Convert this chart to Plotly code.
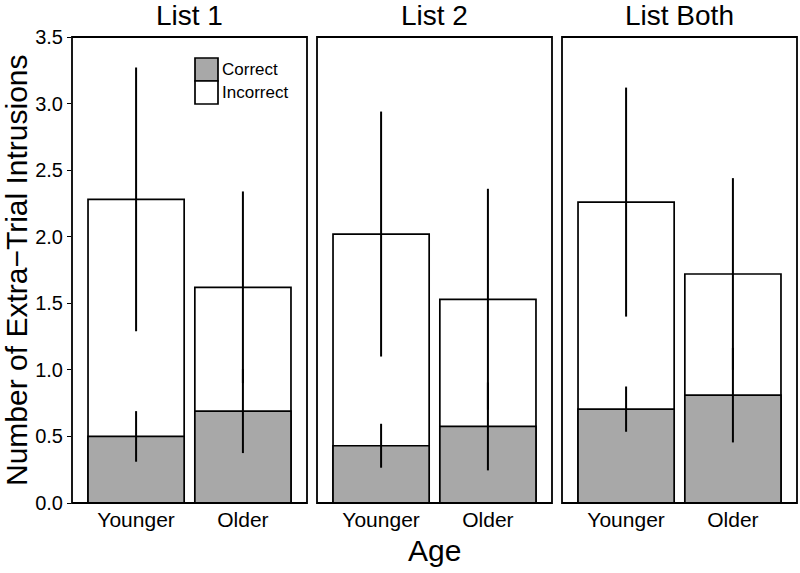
import plotly.graph_objects as go

panels = ["List 1", "List 2", "List Both"]
ages = ["Younger", "Older"]

total_mean = [[2.28, 1.62], [2.02, 1.53], [2.26, 1.72]]
total_err = [[0.99, 0.72], [0.92, 0.83], [0.86, 0.72]]
correct_mean = [[0.50, 0.69], [0.43, 0.575], [0.705, 0.81]]
correct_err = [[0.19, 0.315], [0.165, 0.33], [0.17, 0.355]]

y_ticks = [0.0, 0.5, 1.0, 1.5, 2.0, 2.5, 3.0, 3.5]
y_ticklabels = ["0.0", "0.5", "1.0", "1.5", "2.0", "2.5", "3.0", "3.5"]

GRAY = "#A8A8A8"
FONT = "Liberation Sans, Arial, Helvetica, sans-serif"

W, H = 800, 573
ML, MT = 72, 37
PW, PH = 725, 466
MR = W - ML - PW
MB = H - MT - PH

panel_w = 235
gap = 10
domains = []
for i in range(3):
    x0 = i * (panel_w + gap)
    domains.append([x0 / PW, min(1.0, (x0 + panel_w) / PW)])

fig = go.Figure()
for i, p in enumerate(panels):
    xa = "x" if i == 0 else f"x{i+1}"
    fig.add_trace(go.Bar(
        x=ages, y=total_mean[i], xaxis=xa, yaxis="y",
        width=0.9, marker=dict(color="white", line=dict(color="black", width=1.7)),
        error_y=dict(type="data", array=total_err[i], visible=True, width=0,
                     thickness=2, color="black"),
        showlegend=False, name="Incorrect"))
    fig.add_trace(go.Bar(
        x=ages, y=correct_mean[i], xaxis=xa, yaxis="y",
        width=0.9, marker=dict(color=GRAY, line=dict(color="black", width=1.7)),
        error_y=dict(type="data", array=correct_err[i], visible=True, width=0,
                     thickness=2, color="black"),
        showlegend=False, name="Correct"))

layout = dict(
    width=W, height=H,
    margin=dict(l=ML, r=MR, t=MT, b=MB, autoexpand=False),
    paper_bgcolor="white", plot_bgcolor="white",
    barmode="overlay",
    font=dict(family=FONT, color="black"),
    showlegend=False,
)
for i in range(3):
    key = "xaxis" if i == 0 else f"xaxis{i+1}"
    layout[key] = dict(
        domain=domains[i], anchor="y", type="category",
        categoryorder="array", categoryarray=ages,
        range=[-0.6, 1.6], showline=False, ticks="", showgrid=False, zeroline=False,
        ticklabelstandoff=2,
        tickfont=dict(size=21, family=FONT, color="black"),
    )
layout["yaxis"] = dict(
    range=[0, 3.5], tickvals=y_ticks, ticktext=y_ticklabels,
    ticks="outside", ticklen=4, tickwidth=1.4, tickcolor="black",
    showline=False, showgrid=False, zeroline=False,
    tickfont=dict(size=20, family=FONT, color="black"),
)
fig.update_layout(**layout)

# panel borders (paper-referenced so they are not clipped)
for d in domains:
    fig.add_shape(type="rect", xref="paper", yref="paper",
                  x0=d[0], x1=d[1], y0=0, y1=1, line=dict(color="black", width=1.8),
                  fillcolor="rgba(0,0,0,0)", layer="above")

# facet titles
for i, p in enumerate(panels):
    fig.add_annotation(text=p, xref="paper", yref="paper",
                       x=(domains[i][0] + domains[i][1]) / 2, y=1,
                       xanchor="center", yanchor="bottom", yshift=4, showarrow=False,
                       font=dict(size=28, family=FONT, color="black"))

# axis titles
fig.add_annotation(text="Age", xref="paper", yref="paper", x=0.5, y=0,
                   xanchor="center", yanchor="top", yshift=-29, showarrow=False,
                   font=dict(size=30, family=FONT, color="black"))
fig.add_annotation(text="Number of Extra\u2212Trial Intrusions", xref="paper", yref="paper",
                   x=(16 - ML) / PW, y=0.5, textangle=-90, xanchor="center", yanchor="middle",
                   showarrow=False, font=dict(size=30, family=FONT, color="black"))

# legend (drawn manually), positions in pixels
def px_x(px):
    return (px - ML) / PW

def px_y(py):
    return (MT + PH - py) / PH

legend_items = [("Correct", GRAY), ("Incorrect", "white")]
for k, (lab, col) in enumerate(legend_items):
    y_top = 58 + k * 23
    fig.add_shape(type="rect", xref="paper", yref="paper",
                  x0=px_x(195), x1=px_x(218), y0=px_y(y_top + 23), y1=px_y(y_top),
                  fillcolor=col, line=dict(color="black", width=1.7))
    fig.add_annotation(text=lab, xref="paper", yref="paper",
                       x=px_x(220), y=px_y(y_top + 11.5), xanchor="left", yanchor="middle",
                       showarrow=False, font=dict(size=17, family=FONT, color="black"))

fig.write_html("out.html", config={"displayModeBar": False},
               post_script="document.body.style.margin='0';document.body.style.overflow='hidden';")
